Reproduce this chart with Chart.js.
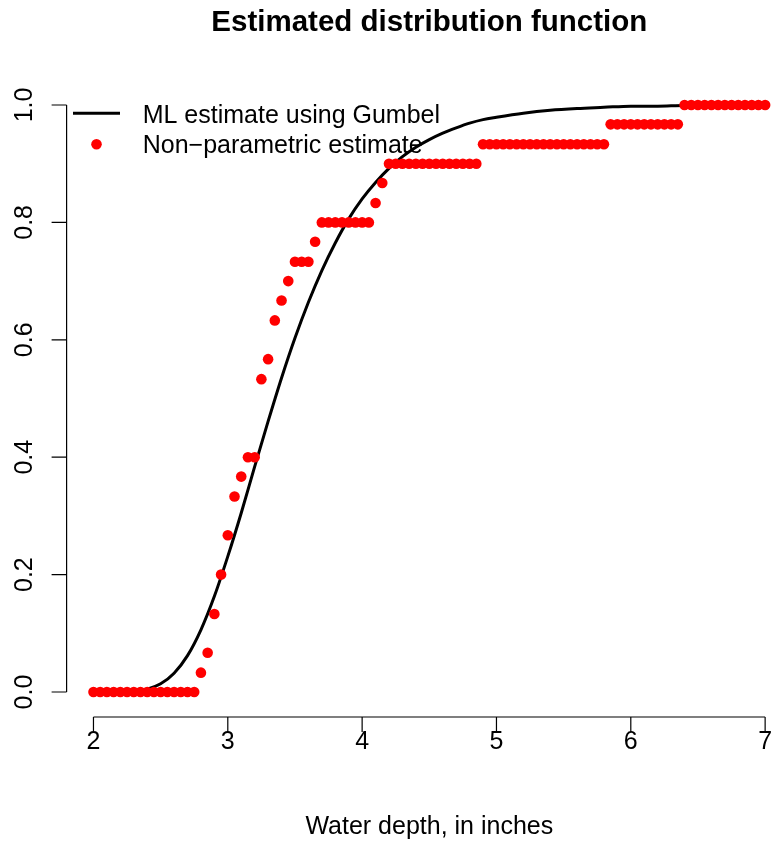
<!DOCTYPE html>
<html>
<head>
<meta charset="utf-8">
<title>Estimated distribution function</title>
<script src="https://cdn.jsdelivr.net/npm/chart.js@4.4.1/dist/chart.umd.min.js"></script>
<style>
  html, body { margin: 0; padding: 0; background: #fff; overflow: hidden; }
  #wrap { width: 771px; height: 842px; overflow: hidden; }
  canvas { display: block; }
</style>
</head>
<body>
<div id="wrap"><canvas id="chartCdf" width="860" height="842"></canvas></div>
<script>
const depthGrid = [
  2.00, 2.05, 2.10, 2.15, 2.20, 2.25, 2.30, 2.35, 2.40, 2.45,
  2.50, 2.55, 2.60, 2.65, 2.70, 2.75, 2.80, 2.85, 2.90, 2.95,
  3.00, 3.05, 3.10, 3.15, 3.20, 3.25, 3.30, 3.35, 3.40, 3.45,
  3.50, 3.55, 3.60, 3.65, 3.70, 3.75, 3.80, 3.85, 3.90, 3.95,
  4.00, 4.05, 4.10, 4.15, 4.20, 4.25, 4.30, 4.35, 4.40, 4.45,
  4.50, 4.55, 4.60, 4.65, 4.70, 4.75, 4.80, 4.85, 4.90, 4.95,
  5.00, 5.05, 5.10, 5.15, 5.20, 5.25, 5.30, 5.35, 5.40, 5.45,
  5.50, 5.55, 5.60, 5.65, 5.70, 5.75, 5.80, 5.85, 5.90, 5.95,
  6.00, 6.05, 6.10, 6.15, 6.20, 6.25, 6.30, 6.35, 6.40, 6.45,
  6.50, 6.55, 6.60, 6.65, 6.70, 6.75, 6.80, 6.85, 6.90, 6.95,
  7.00
];
const empiricalCdf = [
  0, 0, 0, 0, 0, 0, 0, 0, 0, 0,
  0, 0, 0, 0, 0, 0, 0.033, 0.067, 0.133, 0.200,
  0.267, 0.333, 0.367, 0.400, 0.400, 0.533, 0.567, 0.633, 0.667, 0.700,
  0.733, 0.733, 0.733, 0.767, 0.800, 0.800, 0.800, 0.800, 0.800, 0.800,
  0.800, 0.800, 0.833, 0.867, 0.900, 0.900, 0.900, 0.900, 0.900, 0.900,
  0.900, 0.900, 0.900, 0.900, 0.900, 0.900, 0.900, 0.900, 0.933, 0.933,
  0.933, 0.933, 0.933, 0.933, 0.933, 0.933, 0.933, 0.933, 0.933, 0.933,
  0.933, 0.933, 0.933, 0.933, 0.933, 0.933, 0.933, 0.967, 0.967, 0.967,
  0.967, 0.967, 0.967, 0.967, 0.967, 0.967, 0.967, 0.967, 1.000, 1.000,
  1.000, 1.000, 1.000, 1.000, 1.000, 1.000, 1.000, 1.000, 1.000, 1.000,
  1.000
];

// fitted Gumbel curve
const curveX = [
  2.0, 2.1, 2.2, 2.3, 2.4, 2.5, 2.6, 2.7, 2.8, 2.9,
  3.0, 3.1, 3.2, 3.3, 3.4, 3.5, 3.6, 3.7, 3.8, 3.9,
  4.0, 4.1, 4.2, 4.3, 4.4, 4.5, 4.6, 4.7, 4.8, 4.9,
  5.0, 5.2, 5.4, 5.6, 5.8, 6.0, 6.2, 6.4, 6.6, 6.8, 7.0
];
const curveY = [
  0.000, 0.000, 0.000, 0.002, 0.005, 0.014, 0.032, 0.062, 0.106, 0.163,
  0.231, 0.305, 0.384, 0.461, 0.535, 0.603, 0.664, 0.718, 0.765, 0.806,
  0.840, 0.868, 0.892, 0.912, 0.928, 0.941, 0.952, 0.961, 0.969, 0.975,
  0.979, 0.986, 0.991, 0.994, 0.996, 0.998, 0.998, 0.999, 0.999, 1.000, 1.000
];

const xTicks = [2, 3, 4, 5, 6, 7];
const yTicks = [0, 0.2, 0.4, 0.6, 0.8, 1.0];
const yTickLabels = ['0.0', '0.2', '0.4', '0.6', '0.8', '1.0'];

const titleText = 'Estimated distribution function';
const xTitle = 'Water depth, in inches';
const legendLabels = ['ML estimate using Gumbel', 'Non\u2212parametric estimate'];

const FONT = '"Liberation Sans", Arial, Helvetica, sans-serif';

// R-style axes, title and legend
const baseAxes = {
  id: 'baseAxes',
  afterDraw(chart) {
    const ctx = chart.ctx;
    const xs = chart.scales.x, ys = chart.scales.y;
    const area = chart.chartArea;
    const axY = area.bottom + 1.5;
    const axX = area.left;
    ctx.save();
    ctx.strokeStyle = '#000';
    ctx.fillStyle = '#000';
    ctx.lineWidth = 1.2;

    // x axis
    ctx.beginPath();
    ctx.moveTo(xs.getPixelForValue(xTicks[0]), axY);
    ctx.lineTo(xs.getPixelForValue(xTicks[xTicks.length - 1]), axY);
    xTicks.forEach(t => {
      const px = xs.getPixelForValue(t);
      ctx.moveTo(px, axY);
      ctx.lineTo(px, axY + 15);
    });
    ctx.stroke();
    ctx.font = '25px ' + FONT;
    ctx.textAlign = 'center';
    ctx.textBaseline = 'alphabetic';
    xTicks.forEach(t => ctx.fillText(String(t), xs.getPixelForValue(t), axY + 32));
    ctx.fillText(xTitle, (area.left + area.right) / 2, axY + 117);

    // y axis
    ctx.beginPath();
    ctx.moveTo(axX, ys.getPixelForValue(yTicks[0]));
    ctx.lineTo(axX, ys.getPixelForValue(yTicks[yTicks.length - 1]));
    yTicks.forEach(t => {
      const py = ys.getPixelForValue(t);
      ctx.moveTo(axX, py);
      ctx.lineTo(axX - 15, py);
    });
    ctx.stroke();
    yTicks.forEach((t, i) => {
      ctx.save();
      ctx.translate(32, ys.getPixelForValue(t));
      ctx.rotate(-Math.PI / 2);
      ctx.fillText(yTickLabels[i], 0, 0);
      ctx.restore();
    });

    // title
    ctx.font = 'bold 29.5px ' + FONT;
    ctx.fillText(titleText, (area.left + area.right) / 2, 31);

    // legend
    ctx.lineWidth = 3;
    ctx.beginPath();
    ctx.moveTo(73, 113.3);
    ctx.lineTo(120, 113.3);
    ctx.stroke();
    ctx.fillStyle = '#ff0000';
    ctx.beginPath();
    ctx.arc(96.5, 144.3, 5.3, 0, Math.PI * 2);
    ctx.fill();
    ctx.fillStyle = '#000';
    ctx.font = '25px ' + FONT;
    ctx.textAlign = 'left';
    ctx.fillText(legendLabels[0], 142.7, 122.7);
    ctx.fillText(legendLabels[1], 142.7, 153.3);
    ctx.restore();
  }
};

new Chart(document.getElementById('chartCdf'), {
  type: 'scatter',
  data: {
    datasets: [
      {
        label: legendLabels[1],
        data: depthGrid.map((x, i) => ({ x: x, y: empiricalCdf[i] })),
        backgroundColor: '#ff0000',
        borderWidth: 0,
        pointRadius: 5.3,
        order: 0
      },
      {
        type: 'line',
        label: legendLabels[0],
        data: curveX.map((x, i) => ({ x: x, y: curveY[i] })),
        borderColor: '#000',
        borderWidth: 3,
        pointRadius: 0,
        fill: false,
        cubicInterpolationMode: 'monotone',
        order: 1
      }
    ]
  },
  plugins: [baseAxes],
  options: {
    responsive: false,
    animation: false,
    events: [],
    layout: { padding: { left: 66.6, right: 68, top: 81.5, bottom: 126.5 } },
    plugins: { legend: { display: false }, tooltip: { enabled: false }, title: { display: false } },
    scales: {
      x: { type: 'linear', min: 1.8, max: 7.2, display: false },
      y: { type: 'linear', min: -0.04, max: 1.04, display: false }
    }
  }
});
</script>
</body>
</html>
